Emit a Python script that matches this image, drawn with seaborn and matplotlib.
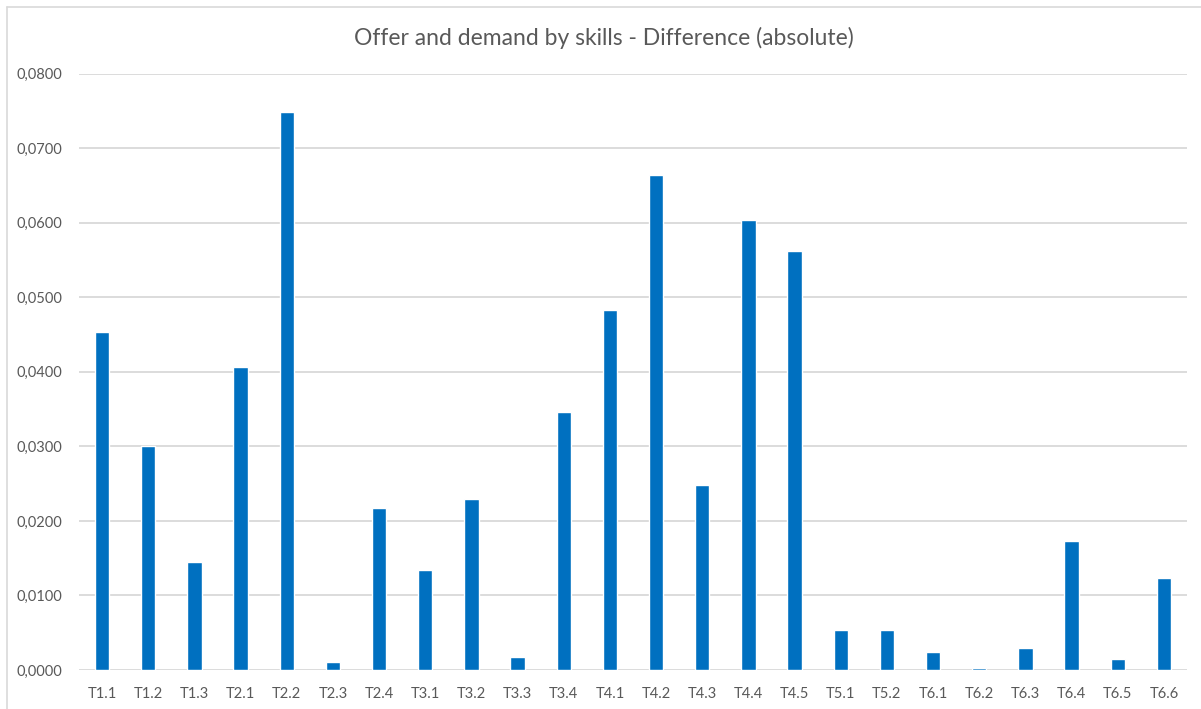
import pandas as pd
import matplotlib
matplotlib.use("Agg")
import matplotlib.pyplot as plt
from matplotlib.ticker import FuncFormatter, MultipleLocator
from matplotlib.lines import Line2D
import seaborn as sns

# données
skills = ["T1.1", "T1.2", "T1.3", "T2.1", "T2.2", "T2.3", "T2.4", "T3.1", "T3.2",
          "T3.3", "T3.4", "T4.1", "T4.2", "T4.3", "T4.4", "T4.5", "T5.1", "T5.2",
          "T6.1", "T6.2", "T6.3", "T6.4", "T6.5", "T6.6"]
difference = [0.0453, 0.0300, 0.0145, 0.0406, 0.0749, 0.0011, 0.0217, 0.0134, 0.0230,
              0.0018, 0.0346, 0.0483, 0.0664, 0.0248, 0.0604, 0.0562, 0.0054, 0.0053,
              0.0024, 0.0003, 0.0029, 0.0173, 0.0015, 0.0123]

df = pd.DataFrame({"Skill": skills, "Difference": difference})

sns.set_theme(style="white")
plt.rcParams["font.family"] = ["Lato", "DejaVu Sans"]

gray_txt = "#595959"
grid_col = "#D9D9D9"

fig = plt.figure(figsize=(12.01, 7.09), dpi=100)
ax = fig.add_axes([79 / 1201, 1 - 670 / 709, (1187 - 79) / 1201, (670 - 73.7) / 709])

sns.barplot(data=df, x="Skill", y="Difference", color="#0070C0", width=0.31,
            saturation=1, ax=ax, zorder=3)

ax.set_xlim(-0.5, len(skills) - 0.5)
ax.set_ylim(0, 0.08)
ax.yaxis.set_major_locator(MultipleLocator(0.01))
ax.yaxis.set_major_formatter(FuncFormatter(lambda v, p: f"{v:.4f}".replace(".", ",")))
ax.grid(axis="y", color=grid_col, linewidth=1.3, zorder=0)
ax.grid(axis="x", visible=False)
for s in ax.spines.values():
    s.set_visible(False)

ax.tick_params(axis="both", length=0, labelsize=10.5, labelcolor=gray_txt)
ax.tick_params(axis="y", pad=12)
ax.tick_params(axis="x", pad=12)
ax.set_xlabel("")
ax.set_ylabel("")

fig.text(0.503, 1 - 38 / 709, "Offer and demand by skills - Difference (absolute)",
         ha="center", va="center", fontsize=16.5, color=gray_txt)

# bordure du graphique (style Excel)
fig.add_artist(Line2D([7 / 1201, 7 / 1201], [0, 1 - 6.5 / 709], transform=fig.transFigure,
                      color=grid_col, linewidth=1.2))
fig.add_artist(Line2D([7 / 1201, 1], [1 - 6.5 / 709, 1 - 6.5 / 709], transform=fig.transFigure,
                      color=grid_col, linewidth=1.2))

fig.savefig("out.png", dpi=100)
